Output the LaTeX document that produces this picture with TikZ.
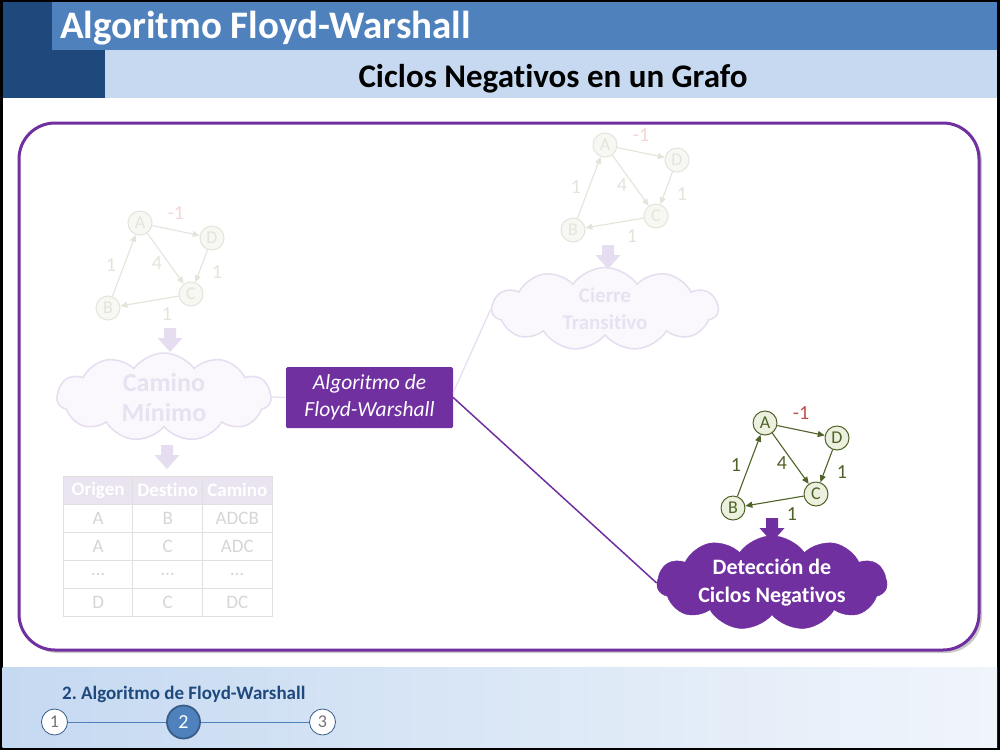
\documentclass[tikz,border=0pt]{standalone}
\usepackage{fontspec}
\setmainfont{Carlito}[Ligatures=NoCommon, Contextuals=NoAlternate, RawFeature={-dlig}]
\usetikzlibrary{positioning,shapes.symbols,shadows,arrows.meta}

\definecolor{hdrdark}{RGB}{31,73,125}
\definecolor{hdrmid}{RGB}{79,129,189}
\definecolor{hdrlight}{RGB}{198,217,241}
\definecolor{vio}{RGB}{112,48,160}
\definecolor{vioFade}{RGB}{230,221,240}
\definecolor{vioFill}{RGB}{250,248,252}
\definecolor{vioText}{RGB}{232,225,241}
\definecolor{oliva}{RGB}{79,98,40}
\definecolor{vfill}{RGB}{235,241,222}
\definecolor{negred}{RGB}{192,80,77}
\definecolor{fline}{RGB}{226,230,218}
\definecolor{ffill}{RGB}{247,248,243}
\definecolor{fneg}{RGB}{243,214,213}
\definecolor{theadfill}{RGB}{233,228,240}
\definecolor{tline}{RGB}{224,224,224}
\definecolor{ttext}{RGB}{214,214,214}
\definecolor{footL}{RGB}{197,217,241}
\definecolor{footR}{RGB}{240,245,251}
\definecolor{stepblue}{RGB}{79,129,189}
\definecolor{stepdark}{RGB}{56,93,138}

\tikzset{
  vtx/.style={circle, line width=1pt, minimum size=24pt, inner sep=0pt, font=\fontsize{18}{18}\selectfont},
  edge/.style={line width=1.1pt, -{Triangle[length=7pt,width=6pt]}},
  wlabel/.style={inner sep=0pt, font=\fontsize{20}{20}\selectfont},
  cloudbox/.style={cloud, cloud puffs=11, cloud puff arc=110, cloud ignores aspect, inner sep=0pt, align=center},
  tcell/.style={draw=tline, fill=white, line width=1pt, minimum width=69.6pt, minimum height=28pt, inner sep=0pt, text=ttext, font=\fontsize{19}{19}\selectfont},
  theadcell/.style={tcell, fill=theadfill, text=white, font=\bfseries\fontsize{19}{19}\selectfont},
  stepnode/.style={circle, inner sep=0pt},
  fadeconn/.style={draw=vioFade, line width=1.2pt},
}

\begin{document}
\begin{tikzpicture}[x=1pt,y=-1pt]
% frame and header
\fill[black] (0,0) rectangle (1000,750);
\fill[white] (2.5,2) rectangle (997,747);
\fill[hdrmid] (2.5,2) rectangle (997,50);
\fill[hdrlight] (105,50) rectangle (997,98);
\fill[hdrdark] (2.5,2) rectangle (52,50);
\fill[hdrdark] (2.5,50) rectangle (105,98);
\node[anchor=base west, inner sep=0pt, text=white, font=\bfseries\fontsize{39}{40}\selectfont] (title) at (60,38) {Algoritmo Floyd-Warshall};
\node[anchor=base, inner sep=0pt, font=\bfseries\fontsize{33}{35}\selectfont] (subtitle) at (553,87) {Ciclos Negativos en un Grafo};

% main panel
\draw[vio, line width=3pt, rounded corners=36pt, fill=white, drop shadow={shadow xshift=3pt, shadow yshift=-3pt, fill=black!40, opacity=0.5}] (19,123) rectangle (979,650);

% footer
\shade[left color=footL, right color=footR] (2.5,667) rectangle (997,747);
\node[anchor=base west, inner sep=0pt, text=hdrdark, font=\bfseries\fontsize{19}{19}\selectfont] (section) at (62,699) {2.\ Algoritmo de Floyd-Warshall};
\node[stepnode, draw=stepdark, fill=white, line width=0.8pt, minimum size=26pt, text=black!55, font=\fontsize{18}{18}\selectfont] (st1) at (54.5,722) {1};
\node[stepnode, draw=stepdark, fill=stepblue, line width=1.8pt, minimum size=33pt, text=white, font=\fontsize{20}{20}\selectfont] (st2) at (183.5,722) {2};
\node[stepnode, draw=stepdark, fill=white, line width=0.8pt, minimum size=26pt, text=black!55, font=\fontsize{18}{18}\selectfont] (st3) at (322.5,722) {3};
\draw[stepblue, line width=1pt] (st1) -- (st2) (st2) -- (st3);

% graphs
\foreach \g/\gx/\gy/\lc/\fc/\nc in {L/140/223/fline/ffill/fneg, T/605/145/fline/ffill/fneg, R/765/423/oliva/vfill/negred}{
  \begin{scope}[shift={(\gx,\gy)}]
    \node[vtx, draw=\lc, fill=\fc, text=\lc] (\g A) at (0,0) {A};
    \node[vtx, draw=\lc, fill=\fc, text=\lc] (\g D) at (72,15) {D};
    \node[vtx, draw=\lc, fill=\fc, text=\lc] (\g C) at (51,71) {C};
    \node[vtx, draw=\lc, fill=\fc, text=\lc] (\g B) at (-32,85) {B};
    \draw[edge, draw=\lc] (\g A) -- (\g D);
    \draw[edge, draw=\lc] (\g A) -- (\g C);
    \draw[edge, draw=\lc] (\g D) -- (\g C);
    \draw[edge, draw=\lc] (\g C) -- (\g B);
    \draw[edge, draw=\lc] (\g B) -- (\g A);
    \node[wlabel, text=\nc] (\g wad) at (36,-10) {-1};
    \node[wlabel, text=\lc] (\g wac) at (17,40) {4};
    \node[wlabel, text=\lc] (\g wba) at (-29,42) {1};
    \node[wlabel, text=\lc] (\g wdc) at (77,49) {1};
    \node[wlabel, text=\lc] (\g wcb) at (27,91) {1};
  \end{scope}
}

% clouds
\node[cloudbox, fill=vioFill, draw=vioFade, line width=1.5pt, text=vioText, minimum width=214pt, minimum height=88pt, font=\bfseries\fontsize{26}{30}\selectfont] (camino) at (164,397) {Camino\\Mínimo};
\node[cloudbox, fill=vioFill, draw=vioFade, line width=1.5pt, text=vioText, minimum width=226pt, minimum height=83pt, font=\bfseries\fontsize{21}{27}\selectfont] (cierre) at (605,309) {Cierre\\Transitivo};
\node[cloudbox, fill=vio, draw=vio, text=white, minimum width=230pt, minimum height=91pt, font=\bfseries\fontsize{22}{28}\selectfont] (deteccion) at (772,583) {Detección de\\Ciclos Negativos};

% algorithm box
\node[fill=vio, text=white, rounded corners=1.5pt, minimum width=167pt, minimum height=61pt, align=center, font=\itshape\fontsize{21.5}{27}\selectfont] (algo) at (369.5,397.5) {Algoritmo de\\Floyd-Warshall};
\draw[fadeconn] (algo.west) -- (camino.east);
\draw[fadeconn] ([yshift=5pt]algo.east) -- (cierre.west);
\draw[vio, line width=1.5pt] (algo.east) -- (deteccion.west);

% block arrows
\foreach \ax/\ay/\ac in {170/328/vioFade, 167/445/vioFade, 608/245/vioFade, 772/518/vio}
  \fill[\ac] (\ax-6,\ay) -- (\ax+6,\ay) -- (\ax+6,\ay+10) -- (\ax+12.5,\ay+10) -- (\ax,\ay+24) -- (\ax-12.5,\ay+10) -- (\ax-6,\ay+10) -- cycle;

% table
\foreach \h [count=\i] in {Origen,Destino,Camino}
  \node[theadcell] (h\i) at (28.5+69.6*\i,490) {\h};
\foreach \pa/\pb/\pc [count=\r] in {A/B/ADCB, A/C/ADC, \ldots/\ldots/\ldots, D/C/DC}{
  \node[tcell] (c\r-1) at (98.1,490+28*\r) {\pa};
  \node[tcell] (c\r-2) at (167.7,490+28*\r) {\pb};
  \node[tcell] (c\r-3) at (237.3,490+28*\r) {\pc};
}
\end{tikzpicture}
\end{document}
